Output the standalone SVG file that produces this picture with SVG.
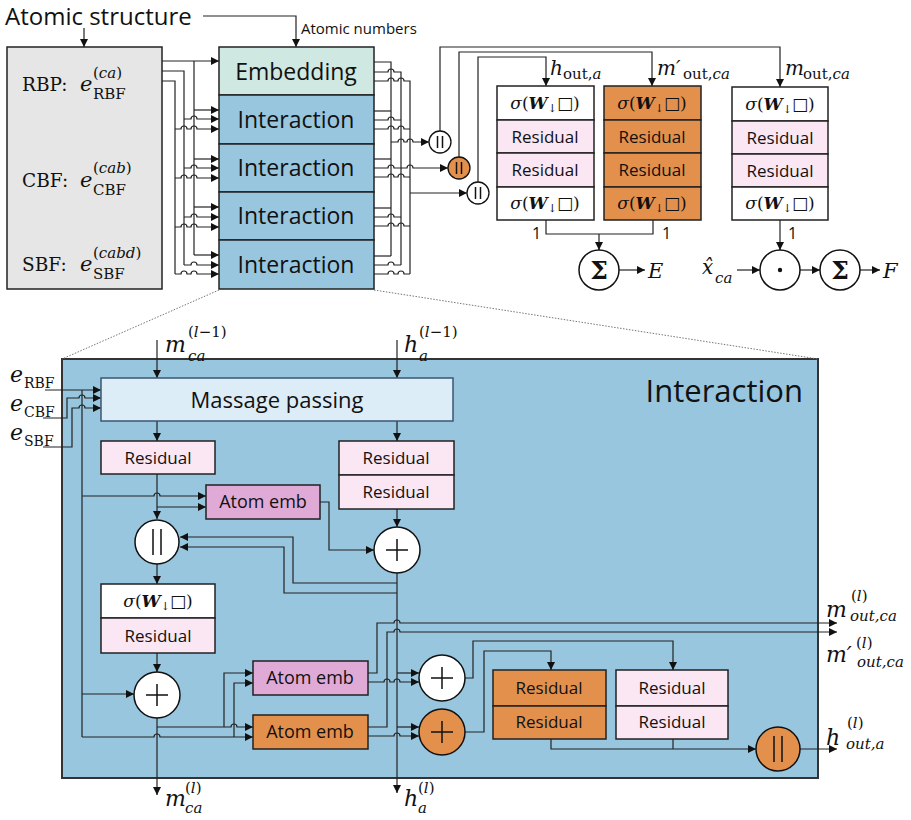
<svg xmlns="http://www.w3.org/2000/svg" width="911" height="820" viewBox="0 0 911 820">
<defs>
<marker id="ah" viewBox="0 0 10 10" refX="10" refY="5" markerWidth="9" markerHeight="8" markerUnits="userSpaceOnUse" orient="auto"><path d="M0,0 L10,5 L0,10 z" fill="#111"/></marker>
<style>
.s{font-family:"Open Sans","Noto Sans",sans-serif;fill:#111}
.m{font-family:"DejaVu Serif","Liberation Serif",serif;font-style:italic;fill:#111}
.r{font-family:"DejaVu Serif","Liberation Serif",serif;font-style:normal;fill:#111}
.ln{fill:none;stroke:#222;stroke-width:1.2}
.la{fill:none;stroke:#222;stroke-width:1.2;marker-end:url(#ah)}
.bx{stroke:#222;stroke-width:1.5}
.gray{fill:#e6e6e6}
.teal{fill:#cfe8e1}
.blue{fill:#98c6df}
.pink{fill:#fbe6f3}
.org{fill:#e3904c}
.pur{fill:#e0aad6}
.wht{fill:#ffffff}
.op{stroke:#111;stroke-width:1.5;fill:none}
</style>
</defs>

<g id="interaction-detail">
<rect x="62" y="359" width="756" height="419" fill="#98c6df" stroke="#333" stroke-width="2"/>
<text class="s" x="803" y="402" font-size="31" text-anchor="end">Interaction</text>
</g>
<g id="zoom-lines">
<path d="M219,290 L62,359" stroke="#777" stroke-width="1" stroke-dasharray="1.5,1.5" fill="none"/>
<path d="M374,290 L818,359" stroke="#777" stroke-width="1" stroke-dasharray="1.5,1.5" fill="none"/>
</g>

<g id="connectors">
<path class="la" d="M84,28 V47"/>
<path class="la" d="M203,16 H296 V47"/>
<path class="la" d="M162,61 H219"/>
<path class="ln" d="M162,71 H184 V265"/>
<path class="ln" d="M162,81 H175 V274"/>
<path class="ln" d="M194,61 V255"/>
<path class="la" d="M194,110 H219"/>
<path class="la" d="M184,119 H191 a3,3 0 0 1 6,0 H219"/>
<path class="la" d="M175,129 H181 a3,3 0 0 1 6,0 H191 a3,3 0 0 1 6,0 H219"/>
<path class="la" d="M194,159 H219"/>
<path class="la" d="M184,168 H191 a3,3 0 0 1 6,0 H219"/>
<path class="la" d="M175,178 H181 a3,3 0 0 1 6,0 H191 a3,3 0 0 1 6,0 H219"/>
<path class="la" d="M194,207 H219"/>
<path class="la" d="M184,217 H191 a3,3 0 0 1 6,0 H219"/>
<path class="la" d="M175,227 H181 a3,3 0 0 1 6,0 H191 a3,3 0 0 1 6,0 H219"/>
<path class="la" d="M194,255 H219"/>
<path class="la" d="M184,265 H191 a3,3 0 0 1 6,0 H219"/>
<path class="la" d="M175,274 H181 a3,3 0 0 1 6,0 H191 a3,3 0 0 1 6,0 H219"/>
<path class="ln" d="M374,62 H391 V256"/>
<path class="ln" d="M374,72 H388 a3,3 0 0 1 6,0 H401 V265"/>
<path class="ln" d="M374,81 H388 a3,3 0 0 1 6,0 H398 a3,3 0 0 1 6,0 H410 V274"/>
<path class="ln" d="M374,111 H391"/>
<path class="ln" d="M374,120 H388 a3,3 0 0 1 6,0 H401"/>
<path class="ln" d="M374,129 H388 a3,3 0 0 1 6,0 H398 a3,3 0 0 1 6,0 H410"/>
<path class="ln" d="M374,159 H391"/>
<path class="ln" d="M374,168 H388 a3,3 0 0 1 6,0 H401"/>
<path class="ln" d="M374,177 H388 a3,3 0 0 1 6,0 H398 a3,3 0 0 1 6,0 H410"/>
<path class="ln" d="M374,208 H391"/>
<path class="ln" d="M374,217 H388 a3,3 0 0 1 6,0 H401"/>
<path class="ln" d="M374,226 H388 a3,3 0 0 1 6,0 H398 a3,3 0 0 1 6,0 H410"/>
<path class="ln" d="M374,256 H391"/>
<path class="ln" d="M374,265 H388 a3,3 0 0 1 6,0 H401"/>
<path class="ln" d="M374,274 H388 a3,3 0 0 1 6,0 H398 a3,3 0 0 1 6,0 H410"/>
<path class="la" d="M391,142 H398 a3,3 0 0 1 6,0 H407 a3,3 0 0 1 6,0 H429"/>
<path class="la" d="M401,168 H407 a3,3 0 0 1 6,0 H448"/>
<path class="la" d="M410,193 H467"/>
<path class="la" d="M440,131 V47 H780 V87"/>
<path class="la" d="M459,157 V52 H652 V86"/>
<path class="la" d="M478,182 V57 H546 V86"/>
<path class="ln" d="M546,220 V234 H653 V220"/>
<path class="la" d="M599,234 V250"/>
<path class="la" d="M780,220 V250"/>
<path class="la" d="M619,270 H645"/>
<path class="la" d="M737,270 H760"/>
<path class="la" d="M800,270 H820"/>
<path class="la" d="M860,270 H880"/>

<path class="la" d="M157,340 V378"/>
<path class="la" d="M397,340 V378"/>
<path class="la" d="M45,390 H101"/>
<path class="la" d="M43,418 H67 V398 H79 a3,3 0 0 1 6,0 H101"/>
<path class="la" d="M43,447 H72 V408 H79 a3,3 0 0 1 6,0 H101"/>
<path class="ln" d="M82,390 V737"/>
<path class="la" d="M157,421 V441"/>
<path class="la" d="M397,421 V441"/>
<path class="la" d="M157,474 V519"/>
<path class="la" d="M82,496 H154 a3,3 0 0 1 6,0 H206"/>
<path class="la" d="M157,507 H206"/>
<path class="la" d="M320,502 H329 V550 H374"/>
<path class="la" d="M397,509 V527"/>
<path class="la" d="M397,573 V793"/>
<path class="la" d="M397,583 H293 V537 H180"/>
<path class="la" d="M397,593 H284 V547 H180"/>
<path class="la" d="M157,564 V584"/>
<path class="la" d="M157,653 V672"/>
<path class="la" d="M82,694 H134"/>
<path class="la" d="M157,718 V795"/>
<path class="la" d="M157,727 H231 a3,3 0 0 1 6,0 H253"/>
<path class="la" d="M224,727 V673 H253"/>
<path class="la" d="M82,737 H154 a3,3 0 0 1 6,0 H253"/>
<path class="la" d="M234,737 V683 H253"/>
<path class="la" d="M368,673 H377 V623 H394 a3,3 0 0 1 6,0 H837"/>
<path class="la" d="M368,682 H384 a3,3 0 0 1 6,0 H394 a3,3 0 0 1 6,0 H419"/>
<path class="la" d="M397,673 H419"/>
<path class="la" d="M368,727 H387 V632 H394 a3,3 0 0 1 6,0 H837"/>
<path class="la" d="M397,727 H419"/>
<path class="la" d="M368,736 H394 a3,3 0 0 1 6,0 H419"/>
<path class="la" d="M465,678 H473 V641 H673 V670"/>
<path class="la" d="M465,732 H484 V651 H551 V670"/>
<path class="la" d="M551,739 V749 H756"/>
<path class="ln" d="M673,739 V749"/>
<path class="la" d="M800,749 H837"/>
</g>

<g id="atomic-structure">
<text class="s" x="5" y="25" font-size="24">Atomic structure</text>
<text class="s" x="301" y="34" font-size="15">Atomic numbers</text>
</g>

<g id="basis">
<rect class="bx gray" x="7" y="47" width="155" height="242"/>
<text class="r" x="22" y="91" font-size="18.5">RBP:</text>
<text class="m" x="80" y="91" font-size="21">e</text>
<text class="r" x="93" y="99" font-size="15">RBF</text>
<text class="r" x="93" y="78" font-size="15">(<tspan font-style="italic">ca</tspan>)</text>
<text class="r" x="22" y="187" font-size="18.5">CBF:</text>
<text class="m" x="80" y="187" font-size="21">e</text>
<text class="r" x="93" y="195" font-size="15">CBF</text>
<text class="r" x="93" y="173" font-size="15">(<tspan font-style="italic">cab</tspan>)</text>
<text class="r" x="22" y="271" font-size="18.5">SBF:</text>
<text class="m" x="80" y="271" font-size="21">e</text>
<text class="r" x="93" y="279" font-size="15">SBF</text>
<text class="r" x="93" y="258" font-size="15">(<tspan font-style="italic">cabd</tspan>)</text>
</g>

<g id="embedding">
<rect class="bx teal" x="219" y="47" width="155" height="48"/>
<text class="s" x="296" y="80" font-size="23" text-anchor="middle">Embedding</text>
</g>
<g id="interaction-1">
<rect class="bx blue" x="219" y="95" width="155" height="49"/>
<text class="s" x="296" y="128" font-size="23" text-anchor="middle">Interaction</text>
</g>
<g id="interaction-2">
<rect class="bx blue" x="219" y="144" width="155" height="48"/>
<text class="s" x="296" y="176" font-size="23" text-anchor="middle">Interaction</text>
</g>
<g id="interaction-3">
<rect class="bx blue" x="219" y="192" width="155" height="48"/>
<text class="s" x="296" y="224" font-size="23" text-anchor="middle">Interaction</text>
</g>
<g id="interaction-4">
<rect class="bx blue" x="219" y="240" width="155" height="49"/>
<text class="s" x="296" y="273" font-size="23" text-anchor="middle">Interaction</text>
</g>

<g id="cat-1">
<circle cx="440" cy="142" r="11" fill="#fff" stroke="#111" stroke-width="1.3"/>
<path class="op" d="M437.5,136 V148 M442.5,136 V148" stroke-width="1.3"/>
</g>
<g id="cat-2">
<circle cx="459" cy="168" r="11" fill="#e3904c" stroke="#111" stroke-width="1.3"/>
<path class="op" d="M456.5,162 V174 M461.5,162 V174" stroke-width="1.3"/>
</g>
<g id="cat-3">
<circle cx="478" cy="193" r="11" fill="#fff" stroke="#111" stroke-width="1.3"/>
<path class="op" d="M475.5,187 V199 M480.5,187 V199" stroke-width="1.3"/>
</g>

<g id="out-h">
<rect class="bx wht" x="497" y="86" width="97" height="34"/>
<rect class="bx pink" x="497" y="120" width="97" height="33"/>
<rect class="bx pink" x="497" y="153" width="97" height="34"/>
<rect class="bx wht" x="497" y="187" width="97" height="33"/>
<text class="r" x="545" y="109" font-size="17" text-anchor="middle"><tspan font-style="italic">σ</tspan>(<tspan font-style="italic" font-weight="bold">W</tspan><tspan font-size="11" dy="3">↓</tspan><tspan dy="-3">□</tspan>)</text>
<text class="s" x="545" y="143" font-size="17" text-anchor="middle">Residual</text>
<text class="s" x="545" y="176" font-size="17" text-anchor="middle">Residual</text>
<text class="r" x="545" y="209" font-size="17" text-anchor="middle"><tspan font-style="italic">σ</tspan>(<tspan font-style="italic" font-weight="bold">W</tspan><tspan font-size="11" dy="3">↓</tspan><tspan dy="-3">□</tspan>)</text>
<text class="m" x="550" y="75" font-size="20">h</text>
<text class="r" x="563" y="79" font-size="15">out,<tspan font-style="italic">a</tspan></text>
</g>
<g id="out-m-prime">
<rect class="bx org" x="604" y="86" width="97" height="34"/>
<rect class="bx org" x="604" y="120" width="97" height="33"/>
<rect class="bx org" x="604" y="153" width="97" height="34"/>
<rect class="bx org" x="604" y="187" width="97" height="33"/>
<text class="r" x="652" y="109" font-size="17" text-anchor="middle"><tspan font-style="italic">σ</tspan>(<tspan font-style="italic" font-weight="bold">W</tspan><tspan font-size="11" dy="3">↓</tspan><tspan dy="-3">□</tspan>)</text>
<text class="s" x="652" y="143" font-size="17" text-anchor="middle">Residual</text>
<text class="s" x="652" y="176" font-size="17" text-anchor="middle">Residual</text>
<text class="r" x="652" y="209" font-size="17" text-anchor="middle"><tspan font-style="italic">σ</tspan>(<tspan font-style="italic" font-weight="bold">W</tspan><tspan font-size="11" dy="3">↓</tspan><tspan dy="-3">□</tspan>)</text>
<text class="m" x="657" y="75" font-size="20">m′</text>
<text class="r" x="683" y="79" font-size="15">out,<tspan font-style="italic">ca</tspan></text>
</g>
<g id="out-m">
<rect class="bx wht" x="732" y="87" width="96" height="34"/>
<rect class="bx pink" x="732" y="121" width="96" height="33"/>
<rect class="bx pink" x="732" y="154" width="96" height="33"/>
<rect class="bx wht" x="732" y="187" width="96" height="33"/>
<text class="r" x="780" y="110" font-size="17" text-anchor="middle"><tspan font-style="italic">σ</tspan>(<tspan font-style="italic" font-weight="bold">W</tspan><tspan font-size="11" dy="3">↓</tspan><tspan dy="-3">□</tspan>)</text>
<text class="s" x="780" y="144" font-size="17" text-anchor="middle">Residual</text>
<text class="s" x="780" y="177" font-size="17" text-anchor="middle">Residual</text>
<text class="r" x="780" y="209" font-size="17" text-anchor="middle"><tspan font-style="italic">σ</tspan>(<tspan font-style="italic" font-weight="bold">W</tspan><tspan font-size="11" dy="3">↓</tspan><tspan dy="-3">□</tspan>)</text>
<text class="m" x="785" y="75" font-size="20">m</text>
<text class="r" x="803" y="79" font-size="15">out,<tspan font-style="italic">ca</tspan></text>
</g>
<g id="weights">
<text class="s" x="532" y="239" font-size="16">1</text>
<text class="s" x="662" y="239" font-size="16">1</text>
<text class="s" x="788" y="239" font-size="16">1</text>
</g>
<g id="sum-e">
<circle cx="599" cy="270" r="20" fill="#fff" stroke="#111" stroke-width="1.5"/>
<text class="r" x="599" y="279" font-size="25" text-anchor="middle" font-weight="bold">Σ</text>
<text class="m" x="648" y="278" font-size="21">E</text>
</g>
<g id="dot">
<circle cx="780" cy="270" r="20" fill="#fff" stroke="#111" stroke-width="1.5"/>
<circle cx="780" cy="270" r="2.2" fill="#111"/>
<text class="m" x="702" y="274" font-size="20">x̂</text>
<text class="m" x="715" y="283" font-size="15">ca</text>
</g>
<g id="sum-f">
<circle cx="840" cy="270" r="20" fill="#fff" stroke="#111" stroke-width="1.5"/>
<text class="r" x="840" y="279" font-size="25" text-anchor="middle" font-weight="bold">Σ</text>
<text class="m" x="883" y="278" font-size="21">F</text>
</g>

<g id="in-labels">
<text class="m" x="165" y="352" font-size="22">m</text>
<text class="r" x="188" y="337" font-size="15">(<tspan font-style="italic">l</tspan>−1)</text>
<text class="m" x="188" y="361" font-size="15">ca</text>
<text class="m" x="404" y="352" font-size="22">h</text>
<text class="r" x="419" y="337" font-size="15">(<tspan font-style="italic">l</tspan>−1)</text>
<text class="m" x="419" y="361" font-size="15">a</text>
<text class="m" x="10" y="382" font-size="22">e</text>
<text class="r" x="24" y="388" font-size="14">RBF</text>
<text class="m" x="10" y="411" font-size="22">e</text>
<text class="r" x="24" y="417" font-size="14">CBF</text>
<text class="m" x="10" y="440" font-size="22">e</text>
<text class="r" x="24" y="446" font-size="14">SBF</text>
</g>
<g id="message-passing">
<rect x="101" y="378" width="352" height="43" fill="#dcedf7" stroke="#3b5573" stroke-width="1.5"/>
<text class="s" x="277" y="408" font-size="22" text-anchor="middle">Massage passing</text>
</g>
<g id="res-m1">
<rect class="bx pink" x="101" y="441" width="114" height="33"/>
<text class="s" x="158" y="464" font-size="17" text-anchor="middle">Residual</text>
</g>
<g id="res-h">
<rect class="bx pink" x="339" y="441" width="115" height="34"/>
<rect class="bx pink" x="339" y="475" width="115" height="34"/>
<text class="s" x="396" y="464" font-size="17" text-anchor="middle">Residual</text>
<text class="s" x="396" y="498" font-size="17" text-anchor="middle">Residual</text>
</g>
<g id="atom-emb-1">
<rect class="bx pur" x="206" y="485" width="114" height="34"/>
<text class="s" x="263" y="508" font-size="18" text-anchor="middle">Atom  emb</text>
</g>
<g id="cat-m">
<circle cx="157" cy="542" r="22" fill="#fff" stroke="#111" stroke-width="1.5"/>
<path class="op" d="M153,529 V555 M161,529 V555" stroke-width="2"/>
</g>
<g id="add-h">
<circle cx="397" cy="550" r="23" fill="#fff" stroke="#111" stroke-width="1.5"/>
<path class="op" d="M386,550 H408 M397,539 V561"/>
</g>
<g id="sigma-res">
<rect class="bx wht" x="101" y="584" width="114" height="34"/>
<rect class="bx pink" x="101" y="618" width="114" height="35"/>
<text class="r" x="158" y="607" font-size="17" text-anchor="middle"><tspan font-style="italic">σ</tspan>(<tspan font-style="italic" font-weight="bold">W</tspan><tspan font-size="11" dy="3">↓</tspan><tspan dy="-3">□</tspan>)</text>
<text class="s" x="158" y="642" font-size="17" text-anchor="middle">Residual</text>
</g>
<g id="add-m">
<circle cx="157" cy="695" r="23" fill="#fff" stroke="#111" stroke-width="1.5"/>
<path class="op" d="M146,695 H168 M157,684 V706"/>
</g>
<g id="atom-emb-2">
<rect class="bx pur" x="253" y="661" width="115" height="34"/>
<text class="s" x="310" y="684" font-size="18" text-anchor="middle">Atom  emb</text>
</g>
<g id="atom-emb-3">
<rect class="bx org" x="253" y="715" width="115" height="34"/>
<text class="s" x="310" y="738" font-size="18" text-anchor="middle">Atom  emb</text>
</g>
<g id="add-1">
<circle cx="442" cy="678" r="23" fill="#fff" stroke="#111" stroke-width="1.5"/>
<path class="op" d="M431,678 H453 M442,667 V689"/>
</g>
<g id="add-2">
<circle cx="442" cy="732" r="23" fill="#e3904c" stroke="#111" stroke-width="1.5"/>
<path class="op" d="M431,732 H453 M442,721 V743"/>
</g>
<g id="res-org">
<rect class="bx org" x="493" y="670" width="113" height="36"/>
<rect class="bx org" x="493" y="706" width="113" height="33"/>
<text class="s" x="549" y="694" font-size="17" text-anchor="middle">Residual</text>
<text class="s" x="549" y="728" font-size="17" text-anchor="middle">Residual</text>
</g>
<g id="res-pink">
<rect class="bx pink" x="616" y="670" width="112" height="36"/>
<rect class="bx pink" x="616" y="706" width="112" height="33"/>
<text class="s" x="672" y="694" font-size="17" text-anchor="middle">Residual</text>
<text class="s" x="672" y="728" font-size="17" text-anchor="middle">Residual</text>
</g>
<g id="cat-out">
<circle cx="778" cy="749" r="22" fill="#e3904c" stroke="#111" stroke-width="1.5"/>
<path class="op" d="M774,736 V762 M782,736 V762" stroke-width="2"/>
</g>
<g id="out-labels">
<text class="m" x="826" y="617" font-size="22">m</text>
<text class="r" x="851" y="601" font-size="15">(<tspan font-style="italic">l</tspan>)</text>
<text class="m" x="850" y="621" font-size="15">out,ca</text>
<text class="m" x="826" y="662" font-size="22">m′</text>
<text class="r" x="856" y="648" font-size="15">(<tspan font-style="italic">l</tspan>)</text>
<text class="m" x="857" y="667" font-size="15">out,ca</text>
<text class="m" x="826" y="745" font-size="22">h</text>
<text class="r" x="847" y="728" font-size="15">(<tspan font-style="italic">l</tspan>)</text>
<text class="m" x="846" y="749" font-size="15">out,a</text>
<text class="m" x="165" y="806" font-size="22">m</text>
<text class="r" x="185" y="793" font-size="15">(<tspan font-style="italic">l</tspan>)</text>
<text class="m" x="185" y="813" font-size="15">ca</text>
<text class="m" x="404" y="806" font-size="22">h</text>
<text class="r" x="418" y="793" font-size="15">(<tspan font-style="italic">l</tspan>)</text>
<text class="m" x="418" y="813" font-size="15">a</text>
</g>
</svg>
